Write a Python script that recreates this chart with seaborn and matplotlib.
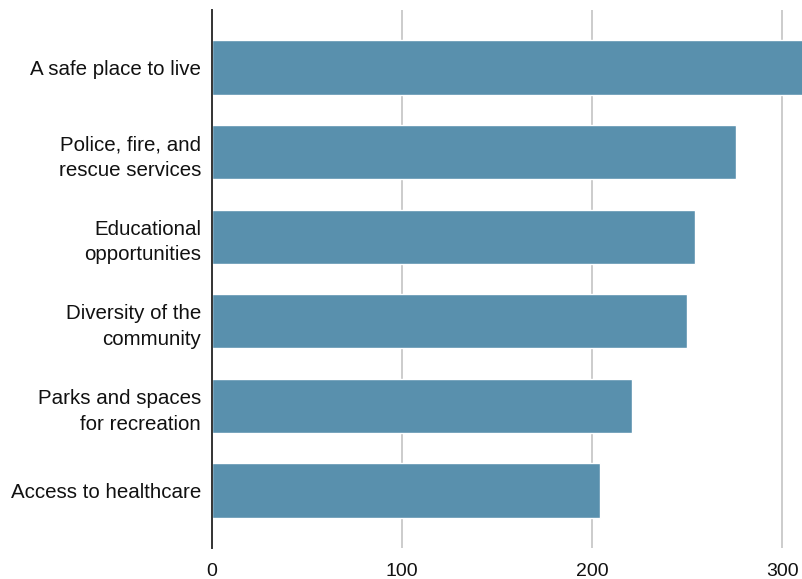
import matplotlib
matplotlib.use("Agg")
import matplotlib.pyplot as plt
import seaborn as sns
import pandas as pd

categories = [
    "A safe place to live",
    "Police, fire, and\nrescue services",
    "Educational\nopportunities",
    "Diversity of the\ncommunity",
    "Parks and spaces\nfor recreation",
    "Access to healthcare",
]
values = [330, 276, 254, 250, 221, 204]
xticks = [0, 100, 200, 300]

df = pd.DataFrame({"category": categories, "value": values})

sns.set_theme(style="white")
plt.rcParams["font.family"] = ["Liberation Sans", "DejaVu Sans"]

fig = plt.figure(figsize=(8.03, 5.79), dpi=100)
ax = fig.add_axes([212 / 803, 1 - 548 / 579, (803 - 212) / 803, (548 - 10) / 579])

sns.barplot(data=df, y="category", x="value", orient="h", color="#5990ad",
            width=0.64, saturation=1, ax=ax, zorder=3)

ax.set_xlim(0, 311)
ax.set_ylim(5.68, -0.68)
ax.set_xticks(xticks)
ax.set_xticklabels([str(t) for t in xticks], fontsize=14, color="#111111")
ax.tick_params(axis="y", labelsize=14.8, labelcolor="#111111", length=0, pad=8)
ax.tick_params(axis="x", length=0, pad=11)
for lbl in ax.get_yticklabels():
    lbl.set_horizontalalignment("right")
    lbl.set_multialignment("right")
    lbl.set_linespacing(1.45)
ax.set_xlabel("")
ax.set_ylabel("")
ax.grid(axis="x", color="#cccccc", linewidth=1.4, zorder=0)
for s in ["top", "right", "bottom"]:
    ax.spines[s].set_visible(False)
ax.spines["left"].set_color("#333333")
ax.spines["left"].set_linewidth(1.4)
ax.spines["left"].set_zorder(5)

fig.savefig("out.png", dpi=100)
